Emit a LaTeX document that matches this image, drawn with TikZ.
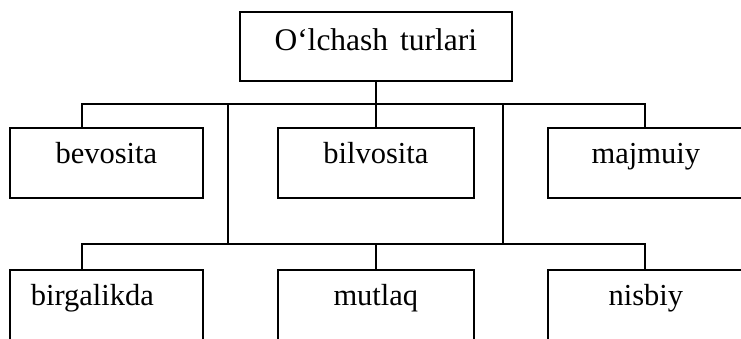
\documentclass[tikz,border=0pt]{standalone}
\usepackage{fontspec}
\setmainfont{Liberation Serif}
\tikzset{
  box/.style={draw, line width=1.7pt, rectangle, inner sep=0pt, anchor=north west,
    font=\fontsize{30.5}{36}\selectfont},
  rowone/.style={minimum height=70pt, text height=36pt, text depth=34pt},
  rowtwo/.style={minimum height=100pt, text height=36pt, text depth=64pt},
  wire/.style={line width=1.7pt},
}
\begin{document}
\begin{tikzpicture}[x=1pt,y=-1pt]
\useasboundingbox (0,0) rectangle (741,339);
\clip (0,0) rectangle (741,339);
% top
\node[box, minimum width=272pt, minimum height=69pt, text height=39pt, text depth=30pt,
  font=\fontsize{31.5}{36}\selectfont] (top) at (239,11) {O‘lchash\hspace{12pt}turlari};
% row 1
\node[box, rowone, minimum width=193pt] (bev) at (9,127) {bevosita};
\node[box, rowone, minimum width=196pt] (bil) at (277,127) {bilvosita};
\node[box, rowone, minimum width=196pt] (maj) at (547,127) {majmuiy};
% row 2
\node[box, rowtwo, minimum width=193pt] (bir) at (9,269) {\makebox[151pt][l]{birgalikda}};
\node[box, rowtwo, minimum width=196pt] (mut) at (277,269) {mutlaq};
\node[box, rowtwo, minimum width=196pt] (nis) at (547,269) {nisbiy};
% junctions
\coordinate (h1L) at (82,104);
\coordinate (h1R) at (645,104);
\coordinate (h1a) at (228,104);
\coordinate (h1b) at (503,104);
\coordinate (h2L) at (82,244);
\coordinate (h2R) at (645,244);
\coordinate (h2a) at (228,244);
\coordinate (h2b) at (503,244);
% connectors
\draw[wire] (h1L |- bev.north) -- (h1L) -- (h1R) -- (h1R |- maj.north);
\draw[wire] (top.south) -- (top.south |- h1L);
\draw[wire] (bil.north) -- (bil.north |- h1L);
\draw[wire] (h1a) -- (h2a);
\draw[wire] (h1b) -- (h2b);
\draw[wire] (h2L |- bir.north) -- (h2L) -- (h2R) -- (h2R |- nis.north);
\draw[wire] (mut.north) -- (mut.north |- h2L);
\end{tikzpicture}
\end{document}
